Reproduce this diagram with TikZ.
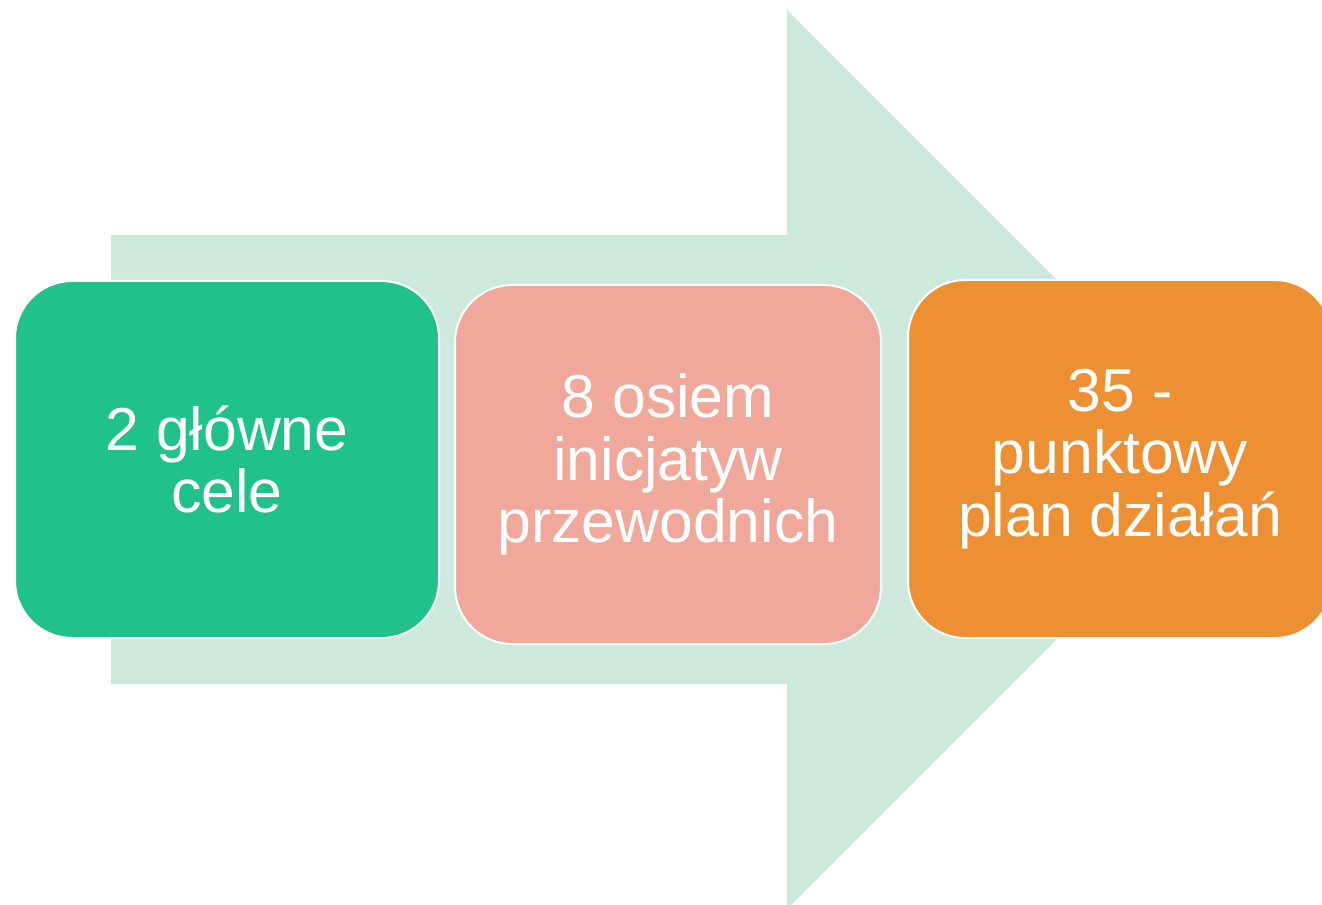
\documentclass[tikz,border=0pt]{standalone}
\usepackage{fontspec}
\setmainfont{Liberation Sans}
\definecolor{arrowfill}{HTML}{CDE9DC}
\definecolor{boxgreen}{HTML}{20C18A}
\definecolor{boxpink}{HTML}{EFA899}
\definecolor{boxorange}{HTML}{ED8F33}
\tikzset{
  stagebox/.style={draw=white, line width=1.5pt, rounded corners=43pt, text=white,
    align=center, inner sep=0pt, font=\fontsize{45.5pt}{47pt}\selectfont},
}
\begin{document}
\begin{tikzpicture}[x=0.75pt,y=-0.75pt]
\useasboundingbox (0,0) rectangle (1322,905);
\clip (0,0) rectangle (1322,905);
\fill[arrowfill] (111,235) -- (787,235) -- (787,10) -- (1236.5,459.5) -- (787,909) -- (787,684) -- (111,684) -- cycle;
\node[stagebox, fill=boxgreen, minimum width=318pt, minimum height=267.75pt] (goals) at (227,459.5) {2 główne\\cele};
\node[stagebox, fill=boxpink, minimum width=319.5pt, minimum height=269.25pt] (flagships) at (668,464.5) {8 osiem\\inicjatyw\\przewodnich};
\node[stagebox, fill=boxorange, minimum width=318pt, minimum height=268.5pt] (plan) at (1120,459) {35 -\\punktowy\\plan działań};
\end{tikzpicture}
\end{document}
